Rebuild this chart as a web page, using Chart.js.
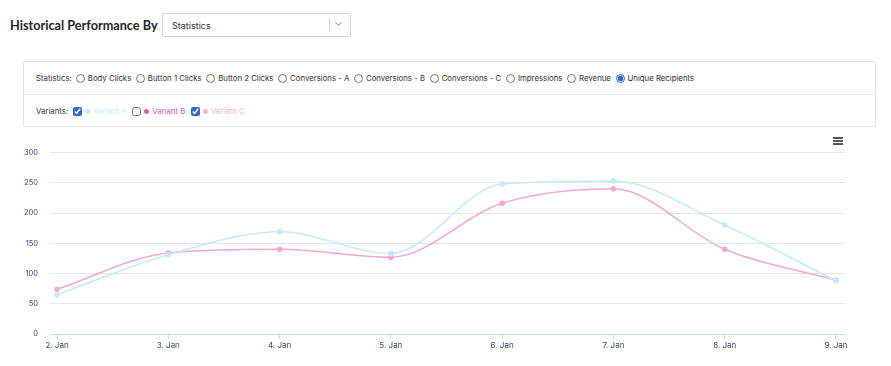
<!DOCTYPE html>
<html>
<head>
<meta charset="utf-8">
<script src="https://cdn.jsdelivr.net/npm/chart.js@4"></script>
<style>
  body { margin: 0; width: 891px; height: 366px; background: #fff; font-family: Inter, "Noto Sans", sans-serif; position: relative; overflow: hidden; }
  .title { position: absolute; left: 10px; top: 17px; font-family: Lato, sans-serif; font-size: 12.7px; font-weight: 700; color: #1f2430; }
  .select { position: absolute; left: 162px; top: 13px; width: 189px; height: 24px; border: 1px solid #d4d4d4; border-radius: 2px; box-sizing: border-box; font-size: 9px; color: #333; }
  .select span { position: absolute; left: 9px; top: 6px; }
  .select .sep { position: absolute; left: 166px; top: 5px; width: 1px; height: 13px; background: #d4d4d4; }
  .select .arrow { position: absolute; left: 173px; top: 6px; width: 4px; height: 4px; border-right: 1px solid #aaa; border-bottom: 1px solid #aaa; transform: rotate(45deg); }
  .panel { position: absolute; left: 23px; top: 61px; width: 853px; height: 66px; border: 1px solid #e4e4e4; border-radius: 2px; box-sizing: border-box; }
  .row { position: absolute; left: 12px; font-size: 7.8px; color: #333; display: flex; align-items: center; white-space: nowrap; }
  .row1 { top: 11px; }
  .row2 { top: 44px; }
  .divider { position: absolute; left: 0; right: 0; top: 32px; height: 1px; background: #e8e8e8; }
  .row label { display: flex; align-items: center; margin-right: 0.6px; }
  .row input { margin: 0 3px 0 4px; width: 9px; height: 9px; accent-color: #2f67d8; }
  .row2 input { margin-left: 5px; }
  .dot { display: inline-block; width: 5px; height: 5px; border-radius: 50%; margin-right: 3px; }
  .menu { position: absolute; left: 833px; top: 137px; width: 10px; }
  .menu div { height: 1.6px; background: #555; margin-bottom: 1.6px; }
  #wrap { position: absolute; left: 20px; top: 136px; width: 850px; height: 224px; }
</style>
</head>
<body>
<div class="title">Historical Performance By</div>
<div class="select"><span>Statistics</span><div class="sep"></div><div class="arrow"></div></div>
<div class="panel">
  <div class="row row1">Statistics:
    <label><input type="radio" name="s">Body Clicks</label>
    <label><input type="radio" name="s">Button 1 Clicks</label>
    <label><input type="radio" name="s">Button 2 Clicks</label>
    <label><input type="radio" name="s">Conversions - A</label>
    <label><input type="radio" name="s">Conversions - B</label>
    <label><input type="radio" name="s">Conversions - C</label>
    <label><input type="radio" name="s">Impressions</label>
    <label><input type="radio" name="s">Revenue</label>
    <label><input type="radio" name="s" checked>Unique Recipients</label>
  </div>
  <div class="divider"></div>
  <div class="row row2">Variants:
    <label><input type="checkbox" checked><span class="dot" style="background:#c9e9f8"></span><span style="color:#c9e9f8">Variant A</span></label>
    <label><input type="checkbox"><span class="dot" style="background:#e0609f"></span><span style="color:#e0609f">Variant B</span></label>
    <label><input type="checkbox" checked><span class="dot" style="background:#f4b3d1"></span><span style="color:#f4b3d1">Variant C</span></label>
  </div>
</div>
<div class="menu"><div></div><div></div><div></div></div>
<div id="wrap"><canvas id="chart"></canvas></div>
<script>
const labels = ['2. Jan', '3. Jan', '4. Jan', '5. Jan', '6. Jan', '7. Jan', '8. Jan', '9. Jan'];
const variantA = [65, 131, 169, 133, 248, 253, 180, 88];
const variantC = [74, 134, 140, 127, 216, 240, 140, 89];
const yTicks = [0, 50, 100, 150, 200, 250, 300];

const blue = '#c6e8f8', pink = '#f2a9cb';
const tickColor = '#3b3f7e';

// points placed on a numeric axis so the plot can have a little padding at both ends
const toPoints = arr => arr.map((v, i) => ({ x: i, y: v }));

new Chart(document.getElementById('chart'), {
    type: 'line',
    data: {
        datasets: [
            { label: 'Variant A', data: toPoints(variantA), borderColor: blue, backgroundColor: blue, borderWidth: 1.5, pointRadius: 2.8, pointBorderWidth: 0, cubicInterpolationMode: 'monotone' },
            { label: 'Variant C', data: toPoints(variantC), borderColor: pink, backgroundColor: pink, borderWidth: 1.5, pointRadius: 2.8, pointBorderWidth: 0, cubicInterpolationMode: 'monotone' }
        ]
    },
    options: {
        responsive: true,
        maintainAspectRatio: false,
        animation: false,
        layout: { padding: { left: 0, right: 25, top: 0, bottom: 6 } },
        plugins: { legend: { display: false }, tooltip: { enabled: false } },
        scales: {
            x: {
                type: 'linear',
                min: -0.063, max: 7.081,
                afterBuildTicks: s => { s.ticks = labels.map((l, i) => ({ value: i })); },
                grid: { drawOnChartArea: false, color: '#ccd6eb', tickLength: 5 },
                border: { color: '#ccd6eb' },
                ticks: { color: tickColor, font: { size: 8, family: 'Inter' }, padding: 2, maxRotation: 0, autoSkip: false,
                    callback: v => labels[v] },
                afterFit: s => { s.height = 20; }
            },
            y: {
                min: 0, max: 300,
                afterBuildTicks: s => { s.ticks = yTicks.map(v => ({ value: v })); },
                grid: { color: '#e6e6e6', drawTicks: false },
                border: { display: false },
                ticks: { color: tickColor, font: { size: 7.5, family: 'Inter' }, padding: 12 },
                afterFit: s => { s.width = 30; }
            }
        }
    }
});
</script>
</body>
</html>
